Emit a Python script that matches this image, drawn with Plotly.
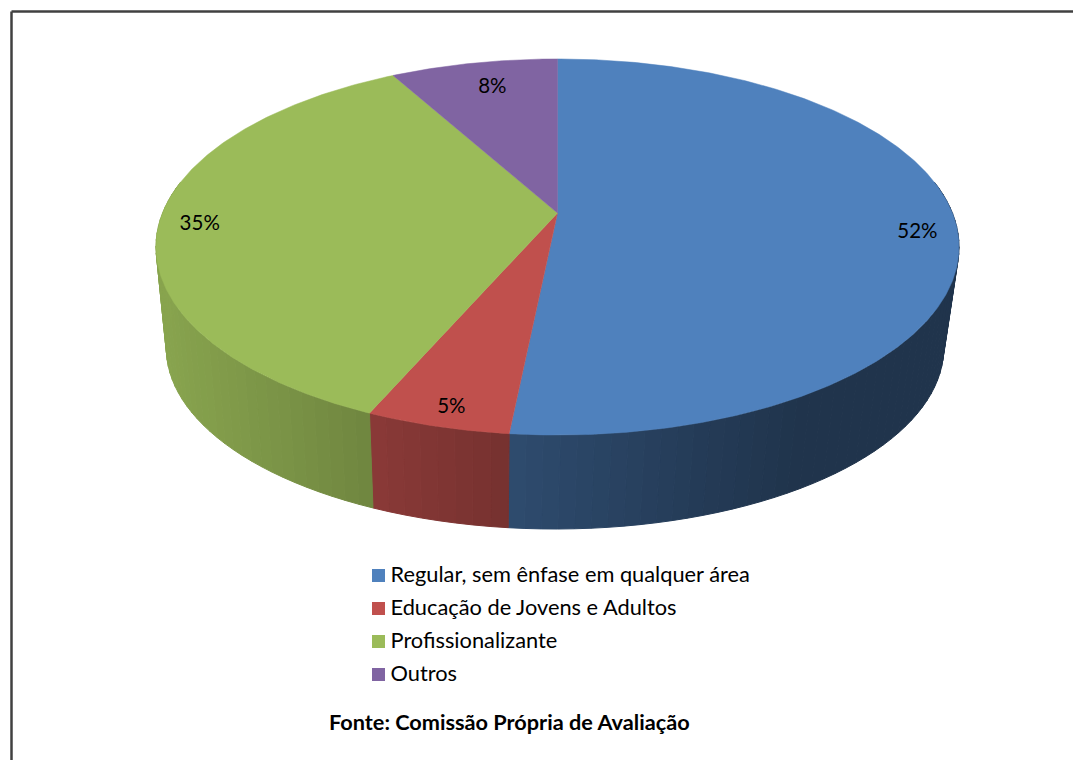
import numpy as np
import plotly.graph_objects as go

categories = ["Regular, sem ênfase em qualquer área", "Educação de Jovens e Adultos",
              "Profissionalizante", "Outros"]
values = [51.6, 4.9, 35.49, 8.01]
labels = ["52%", "5%", "35%", "8%"]
colors = ["#4F81BD", "#C0504D", "#9BBB59", "#8064A2"]
source = "Fonte: Comissão Própria de Avaliação"

# projection of the tilted disc, in page pixels
CX, CY_TOP, R_TOP, A_TOP, K = 557.5, 213.0, 394.9, 181.9, 0.1808
CX_BOT, CY_BOT, SX_BOT, SY_BOT = 555.0, 315.4, 0.968, 0.962
label_radius = [0.905, 0.90, 0.90, 0.75]
label_dy = [12, 7, 4, -8]
key_x, key_top, key_step, key_text_x, key_text_dy = 378.5, 575.5, 33, 390.5, 1.5
FONT = "Lato, Carlito, Calibri, sans-serif"


def project(theta_deg, f=1.0, cx=CX, cy=CY_TOP, sx=1.0, sy=1.0):
    t = np.radians(theta_deg)
    d = 1 + K * f * np.cos(t)
    return cx + sx * R_TOP * f * np.sin(t) / d, cy - sy * A_TOP * f * np.cos(t) / d


def shade(hex_color, x):
    factor = np.interp(x, [160, 370, 505, 515, 700, 800, 960],
                       [0.88, 0.72, 0.615, 0.58, 0.46, 0.40, 0.40])
    rgb = [int(hex_color[i:i + 2], 16) for i in (1, 3, 5)]
    return "rgb(%d,%d,%d)" % tuple(round(c * factor) for c in rgb)


edges = np.cumsum([0] + values) / sum(values) * 360
fig = go.Figure()

# side wall
for i, col in enumerate(colors):
    lo, hi = max(edges[i], 80), min(edges[i + 1], 280)
    if hi <= lo:
        continue
    steps = np.linspace(lo, hi, max(2, int((hi - lo) / 2) + 1))
    for a, b in zip(steps[:-1], steps[1:]):
        xt, yt = project(np.array([a, b]))
        xb, yb = project(np.array([b, a]), cx=CX_BOT, cy=CY_BOT, sx=SX_BOT, sy=SY_BOT)
        c = shade(col, (xt.mean() + xb.mean()) / 2)
        fig.add_trace(go.Scatter(x=np.r_[xt, xb, xt[0]], y=np.r_[yt, yb, yt[0]], mode="lines",
                                 fill="toself", fillcolor=c, line=dict(color=c, width=1),
                                 showlegend=False, hoverinfo="skip"))

# top face
for i, col in enumerate(colors):
    th = np.linspace(edges[i], edges[i + 1], max(3, int(edges[i + 1] - edges[i]) * 2))
    xs, ys = project(th)
    fig.add_trace(go.Scatter(x=np.r_[CX, xs, CX], y=np.r_[CY_TOP, ys, CY_TOP], mode="lines",
                             fill="toself", fillcolor=col, line=dict(color=col, width=0.5),
                             showlegend=False, hoverinfo="text", text=categories[i]))

# data labels
mid = (edges[:-1] + edges[1:]) / 2
lx, ly = zip(*[project(m, f) for m, f in zip(mid, label_radius)])
fig.add_trace(go.Scatter(x=lx, y=np.array(ly) + np.array(label_dy), mode="text", text=labels,
                         textposition="middle center",
                         textfont=dict(family=FONT, size=20.5, color="#000000"),
                         showlegend=False, hoverinfo="skip"))

# legend key
for i, (name, col) in enumerate(zip(categories, colors)):
    row = key_top + i * key_step
    fig.add_trace(go.Scatter(x=[key_x], y=[row], mode="markers", name=name,
                             marker=dict(symbol="square", size=13, color=col),
                             showlegend=False, hoverinfo="skip"))
    fig.add_trace(go.Scatter(x=[key_text_x], y=[row + key_text_dy], mode="text", name=name,
                             text=[name], textposition="middle right",
                             textfont=dict(family=FONT, size=21.8, color="#000000"),
                             showlegend=False, hoverinfo="skip"))

fig.update_layout(
    width=1073, height=760, autosize=False,
    margin=dict(l=0, r=0, t=0, b=0),
    paper_bgcolor="white", plot_bgcolor="white",
    xaxis=dict(range=[0, 1073], visible=False, fixedrange=True),
    yaxis=dict(range=[760, 0], visible=False, fixedrange=True),
    showlegend=False,
    annotations=[dict(text="<b>%s</b>" % source, x=509, y=722, xref="x", yref="y", showarrow=False,
                      font=dict(family=FONT, size=21.7, color="#000000"))],
    shapes=[dict(type="line", xref="x", yref="y", x0=11.5, x1=1073, y0=11.5, y1=11.5,
                 line=dict(color="#404040", width=2.5)),
            dict(type="line", xref="x", yref="y", x0=11.5, x1=11.5, y0=11.5, y1=760,
                 line=dict(color="#404040", width=2.5))],
)
fig.write_html("out.html", config=dict(displayModeBar=False),
               post_script="document.body.style.margin='0';")
